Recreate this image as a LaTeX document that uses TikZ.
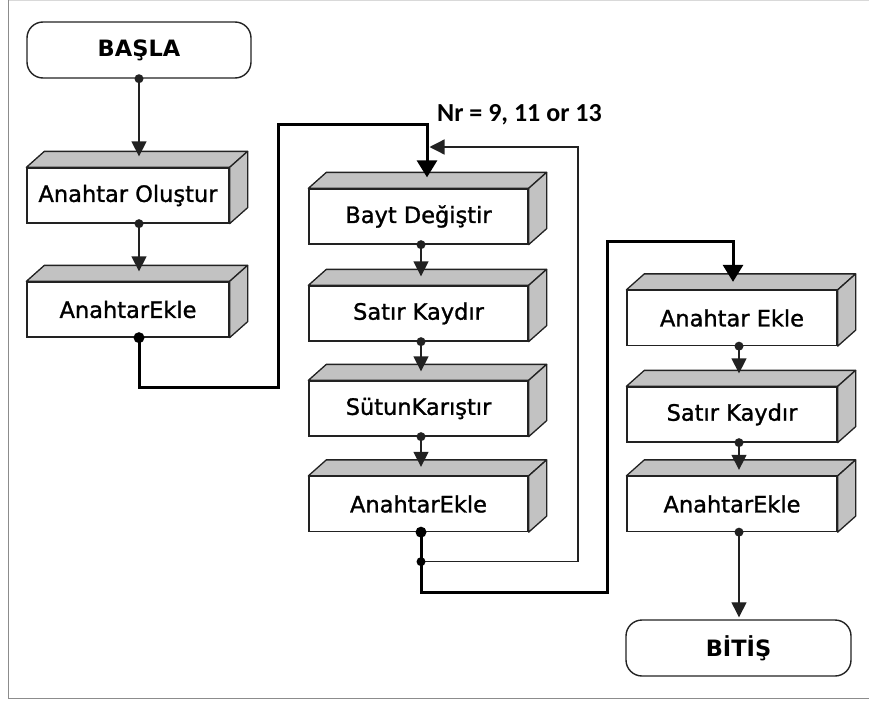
\documentclass[tikz,border=0pt]{standalone}
\usepackage{fontspec}
\setmainfont{DejaVu Sans}
\newfontfamily\kutufont[FakeBold=1.2]{DejaVu Sans}
\newfontfamily\nrfont{Carlito}
\usetikzlibrary{arrows.meta,positioning,calc}
\usepackage{xcolor}
\definecolor{Cizgi}{HTML}{222222}
\definecolor{Yuz}{HTML}{C2C2C2}
\definecolor{Cerceve}{HTML}{8C8C8C}

\tikzset{
  blok/.style={rectangle,draw=Cizgi,line width=1.3pt,fill=white,minimum height=55pt,inner sep=0pt,font=\kutufont\fontsize{22.5}{26}\selectfont,text=black},
  uc/.style={rectangle,rounded corners=16pt,draw=Cizgi,line width=1.4pt,fill=white,minimum height=56pt,inner sep=0pt,font=\fontsize{22.5}{26}\selectfont\bfseries,text=black},
  yuz/.style={fill=Yuz,draw=Cizgi,line width=1.3pt,line join=round},
  ince/.style={-{Triangle[width=15pt,length=15pt]},Cizgi,line width=1.3pt},
  kalin/.style={-{Triangle[width=20pt,length=17pt]},black,line width=3pt},
}

\begin{document}
\begin{tikzpicture}[x=1pt,y=-1pt]
\useasboundingbox (0,0) rectangle (869,701);
% frame
\draw[black!15,line width=1pt] (8.5,0.5) -- (869,0.5);
\draw[Cerceve,line width=1.5pt] (8.5,0) -- (8.5,698.5) -- (869,698.5);

% terminals and boxes
\node[uc,minimum width=224pt] (basla) at (139,50) {BAŞLA};
\node[blok,minimum width=202pt] (olustur) at (128,195.5) {Anahtar Oluştur};
\node[blok,minimum width=202pt] (ekle0) at (128,309.5) {AnahtarEkle};
\node[blok,minimum width=219pt] (bayt) at (418.5,216.5) {Bayt Değiştir};
\node[blok,minimum width=219pt] (satir) at (418.5,313.5) {Satır Kaydır};
\node[blok,minimum width=219pt] (sutun) at (418.5,408.5) {SütunKarıştır};
\node[blok,minimum width=219pt] (ekle) at (418.5,504) {AnahtarEkle};
\node[blok,minimum width=210pt] (sonekle) at (732,318) {Anahtar Ekle};
\node[blok,minimum width=210pt] (sonsatir) at (732,414.5) {Satır Kaydır};
\node[blok,minimum width=210pt] (sonekle2) at (732,504) {AnahtarEkle};
\node[uc,minimum width=225pt] (bitis) at (738.5,648) {BİTİŞ};
\node[anchor=west,inner sep=0pt,font=\nrfont\bfseries\fontsize{26}{30}\selectfont,text=black] (nr) at (437,115) {Nr = 9, 11 or 13};

% top and side faces
\foreach \n in {olustur,ekle0,bayt,satir,sutun,ekle,sonekle,sonsatir,sonekle2} {
  \filldraw[yuz] (\n.north west) -- ++(18,-16) -- ([shift={(18,-16)}]\n.north east) -- (\n.north east) -- cycle;
  \filldraw[yuz] (\n.north east) -- ([shift={(18,-16)}]\n.north east) -- ([shift={(18,-16)}]\n.south east) -- (\n.south east) -- cycle;
}

% loop entry and exit points
\coordinate (don) at ([xshift=2.5pt,yshift=-29.5pt]ekle.south);
\coordinate (giris) at (429.5,147);

% left column
\draw[ince] (basla.south) -- ([xshift=11pt,yshift=11pt]olustur.north);
\fill[Cizgi] (basla.south) circle (4.5pt);
\draw[ince] ([xshift=11pt]olustur.south) -- ([xshift=11pt,yshift=10pt]ekle0.north);
\fill[Cizgi] ([xshift=11pt]olustur.south) circle (4.5pt);
\draw[kalin] ([xshift=11pt]ekle0.south) -- ++(0,50) -| (278,124) -| ([xshift=8.5pt,yshift=11pt]bayt.north);
\fill ([xshift=11pt]ekle0.south) circle (5.5pt);

% rounds
\draw[ince] ([xshift=2.5pt]bayt.south) -- ([xshift=2.5pt,yshift=9pt]satir.north);
\fill[Cizgi] ([xshift=2.5pt]bayt.south) circle (4.5pt);
\draw[ince] ([xshift=2.5pt]satir.south) -- ([xshift=2.5pt,yshift=9pt]sutun.north);
\fill[Cizgi] ([xshift=2.5pt]satir.south) circle (4.5pt);
\draw[ince] ([xshift=2.5pt]sutun.south) -- ([xshift=2.5pt,yshift=9pt]ekle.north);
\fill[Cizgi] ([xshift=2.5pt]sutun.south) circle (4.5pt);
\draw[ince] (don) -| (578,147) -- (giris);
\draw[kalin] ([xshift=2.5pt]ekle.south) -- ++(0,60) -| (607,241) -| ([xshift=1pt,yshift=8pt]sonekle.north);
\fill ([xshift=2.5pt]ekle.south) circle (5.5pt);
\fill (don) circle (4.5pt);

% final round
\draw[ince] ([xshift=7pt]sonekle.south) -- ([xshift=7pt,yshift=13pt]sonsatir.north);
\fill[Cizgi] ([xshift=7pt]sonekle.south) circle (4.5pt);
\draw[ince] ([xshift=7pt]sonsatir.south) -- ([xshift=7pt,yshift=6pt]sonekle2.north);
\fill[Cizgi] ([xshift=7pt]sonsatir.south) circle (4.5pt);
\draw[ince] ([xshift=7pt]sonekle2.south) -- ([xshift=0.5pt,yshift=2pt]bitis.north);
\fill[Cizgi] ([xshift=7pt]sonekle2.south) circle (4.5pt);
\end{tikzpicture}
\end{document}
